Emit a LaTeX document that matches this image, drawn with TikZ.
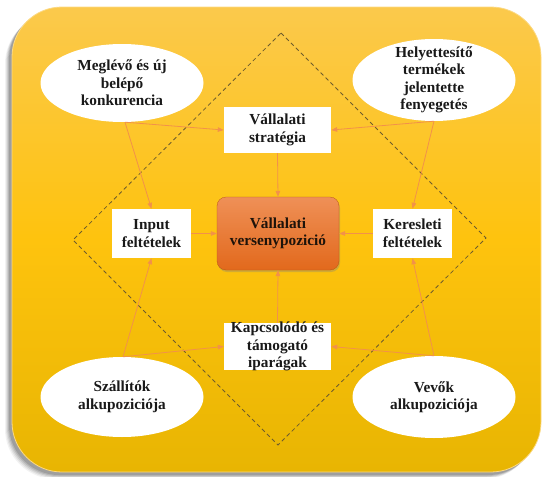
\documentclass[tikz,border=0pt]{standalone}
\usepackage{fontspec}
\setmainfont{Liberation Serif}
\usetikzlibrary{shapes.geometric,arrows.meta,calc,shadows}
\definecolor{bgtop}{HTML}{FBC94C}
\definecolor{bgmid}{HTML}{FEC30E}
\definecolor{bgbot}{HTML}{E8B502}
\definecolor{arrowc}{HTML}{F2914A}
\definecolor{dashc}{HTML}{6E5C2C}
\definecolor{coretop}{HTML}{EF9057}
\definecolor{corebot}{HTML}{E2691C}
\tikzset{
  lbl/.style={font=\bfseries\fontsize{15.3}{17.5}\selectfont, align=center, text=black!90, inner sep=0pt},
  oval/.style={ellipse, fill=white, minimum width=163pt, minimum height=78pt, inner sep=0pt},
  wbox/.style={rectangle, fill=white, inner sep=0pt},
  flow/.style={draw=arrowc, line width=0.8pt, -{Triangle[length=6pt,width=4.5pt]}},
}
\begin{document}
\begin{tikzpicture}[x=1pt,y=-1pt]
\useasboundingbox (0,0) rectangle (542,477);
% soft grey shadow of the panel
\foreach \o/\a in {7/0.05,6/0.07,5/0.09,4/0.11,3/0.13}{
  \fill[black,opacity=\a,rounded corners=50pt] (12-\o,7+\o) rectangle (541-\o,472+\o);
}
% panel with vertical gradient
\shade[rounded corners=50pt, top color=bgtop, bottom color=bgbot, middle color=bgmid]
  (12,7) rectangle (541,472);
\draw[rounded corners=50pt, draw=bgtop!70!white, line width=0.8pt] (12,7) rectangle (541,472);

% dashed diamond
\coordinate (dT) at (281,33);
\coordinate (dR) at (486,238);
\coordinate (dB) at (278,445);
\coordinate (dL) at (73,240);
\draw[dashc, dashed, dash pattern=on 4pt off 3pt, line width=0.8pt] (dT) -- (dR) -- (dB) -- (dL) -- cycle;

% corner forces
\node[oval] (tl) at (122,83) {};
\node[lbl] (tlT) at (tl) {Meglévő és új\\belépő\\konkurencia};
\node[oval, minimum height=82pt] (tr) at (434,80) {};
\node[lbl] (trT) at (tr) {Helyettesítő\\termékek\\jelentette\\fenyegetés};
\node[oval, minimum height=80pt] (bl) at (122,397) {};
\node[lbl] (blT) at (bl) {Szállítók\\alkupoziciója};
\node[oval, minimum height=82pt] (br) at (434,397) {};
\node[lbl] (brT) at (br) {Vevők\\alkupoziciója};

% inner boxes
\node[wbox, minimum width=107pt, minimum height=46pt] (strat) at (277.5,130) {};
\node[lbl] at (strat) {Vállalati\\stratégia};
\node[wbox, minimum width=79pt, minimum height=49pt] (inp) at (151.5,233.5) {};
\node[lbl] at (inp) {Input\\feltételek};
\node[wbox, minimum width=79pt, minimum height=49pt] (ker) at (412.5,233.5) {};
\node[lbl] at (ker) {Keresleti\\feltételek};
\node[wbox, minimum width=107pt, minimum height=47pt] (kap) at (277.5,346.5) {};
\node[lbl] at (kap) {Kapcsolódó és\\támogató\\iparágak};

% central box
\node[rectangle, rounded corners=9pt, minimum width=122pt, minimum height=73pt,
      top color=coretop, bottom color=corebot, draw=corebot!80!black, line width=0.3pt,
      drop shadow={shadow xshift=1pt, shadow yshift=-2pt, opacity=0.35}] (core) at (278,233.5) {};
\node[lbl, text=black!85!brown] at (core) {Vállalati\\versenypozició};

% connectors
\coordinate (tlS) at ($(tl.south)+(3,0)$);
\coordinate (trS) at (tr.south);
\coordinate (blN) at ($(bl.north)+(1,0)$);
\coordinate (brN) at (br.north);
\draw[flow] (tlS) -- (strat.west);
\draw[flow] (tlS) -- (inp.north);
\draw[flow] (trS) -- (strat.east);
\draw[flow] (trS) -- (ker.north);
\draw[flow] (blN) -- (inp.south);
\draw[flow] (blN) -- (kap.west);
\draw[flow] (brN) -- (ker.south);
\draw[flow] (brN) -- (kap.east);
\draw[flow] (strat.south) -- (core.north);
\draw[flow] (kap.north) -- (core.south);
\draw[flow] (inp.east) -- (core.west);
\draw[flow] (ker.west) -- (core.east);
\end{tikzpicture}
\end{document}
